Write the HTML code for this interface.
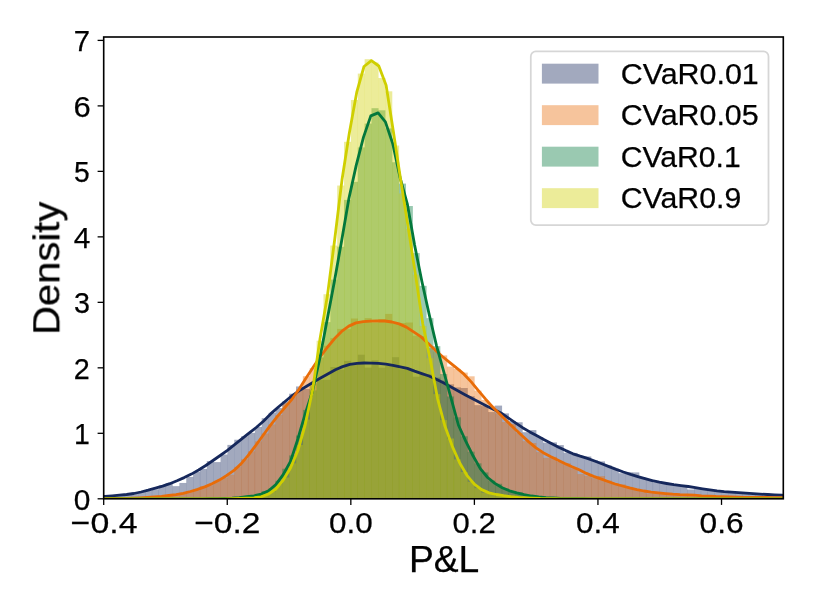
<!DOCTYPE html>
<html><head><meta charset="utf-8"><title>P&amp;L density</title>
<style>
html,body{margin:0;padding:0;background:#fff;}
body{width:814px;height:610px;overflow:hidden;font-family:"Liberation Sans",sans-serif;}
</style></head><body>
<svg width="814" height="610" viewBox="0 0 814 610" style="display:block"><rect x="0" y="0" width="814" height="610" fill="#ffffff"/>
<defs><clipPath id="ax"><rect x="103.7" y="37.0" width="679.5999999999999" height="461.8"/></clipPath></defs>
<g clip-path="url(#ax)">
<g fill="#16285c" fill-opacity="0.4" stroke="none">
<rect x="83.30" y="496.69" width="7.06" height="2.11"/>
<rect x="90.16" y="496.88" width="7.06" height="1.92"/>
<rect x="97.02" y="496.57" width="7.06" height="2.23"/>
<rect x="103.88" y="497.19" width="7.06" height="1.61"/>
<rect x="110.74" y="495.76" width="7.06" height="3.04"/>
<rect x="117.61" y="495.24" width="7.06" height="3.56"/>
<rect x="124.47" y="494.40" width="7.06" height="4.40"/>
<rect x="131.33" y="493.73" width="7.06" height="5.07"/>
<rect x="138.19" y="491.86" width="7.06" height="6.94"/>
<rect x="145.05" y="490.48" width="7.06" height="8.32"/>
<rect x="151.92" y="489.28" width="7.06" height="9.52"/>
<rect x="158.78" y="485.37" width="7.06" height="13.43"/>
<rect x="165.64" y="483.06" width="7.06" height="15.74"/>
<rect x="172.50" y="486.15" width="7.06" height="12.65"/>
<rect x="179.36" y="482.95" width="7.06" height="15.85"/>
<rect x="186.23" y="476.90" width="7.06" height="21.90"/>
<rect x="193.09" y="471.82" width="7.06" height="26.98"/>
<rect x="199.95" y="468.95" width="7.06" height="29.85"/>
<rect x="206.81" y="461.07" width="7.06" height="37.73"/>
<rect x="213.67" y="462.10" width="7.06" height="36.70"/>
<rect x="220.54" y="454.54" width="7.06" height="44.26"/>
<rect x="227.40" y="444.90" width="7.06" height="53.90"/>
<rect x="234.26" y="439.73" width="7.06" height="59.07"/>
<rect x="241.12" y="436.23" width="7.06" height="62.57"/>
<rect x="247.98" y="432.90" width="7.06" height="65.90"/>
<rect x="254.85" y="426.95" width="7.06" height="71.85"/>
<rect x="261.71" y="418.18" width="7.06" height="80.62"/>
<rect x="268.57" y="412.87" width="7.06" height="85.93"/>
<rect x="275.43" y="408.04" width="7.06" height="90.76"/>
<rect x="282.29" y="401.27" width="7.06" height="97.53"/>
<rect x="289.16" y="393.70" width="7.06" height="105.10"/>
<rect x="296.02" y="386.46" width="7.06" height="112.34"/>
<rect x="302.88" y="389.01" width="7.06" height="109.79"/>
<rect x="309.74" y="383.56" width="7.06" height="115.24"/>
<rect x="316.60" y="380.02" width="7.06" height="118.78"/>
<rect x="323.47" y="379.81" width="7.06" height="118.99"/>
<rect x="330.33" y="367.00" width="7.06" height="131.80"/>
<rect x="337.19" y="369.57" width="7.06" height="129.23"/>
<rect x="344.05" y="360.90" width="7.06" height="137.90"/>
<rect x="350.91" y="363.98" width="7.06" height="134.82"/>
<rect x="357.78" y="354.70" width="7.06" height="144.10"/>
<rect x="364.64" y="367.60" width="7.06" height="131.20"/>
<rect x="371.50" y="360.30" width="7.06" height="138.50"/>
<rect x="378.36" y="367.68" width="7.06" height="131.12"/>
<rect x="385.22" y="365.95" width="7.06" height="132.85"/>
<rect x="392.09" y="357.20" width="7.06" height="141.60"/>
<rect x="398.95" y="369.27" width="7.06" height="129.53"/>
<rect x="405.81" y="368.93" width="7.06" height="129.87"/>
<rect x="412.67" y="376.73" width="7.06" height="122.07"/>
<rect x="419.53" y="374.59" width="7.06" height="124.21"/>
<rect x="426.40" y="374.16" width="7.06" height="124.64"/>
<rect x="433.26" y="377.60" width="7.06" height="121.20"/>
<rect x="440.12" y="380.53" width="7.06" height="118.27"/>
<rect x="446.98" y="384.28" width="7.06" height="114.52"/>
<rect x="453.84" y="387.36" width="7.06" height="111.44"/>
<rect x="460.71" y="388.00" width="7.06" height="110.80"/>
<rect x="467.57" y="396.22" width="7.06" height="102.58"/>
<rect x="474.43" y="405.14" width="7.06" height="93.66"/>
<rect x="481.29" y="406.14" width="7.06" height="92.66"/>
<rect x="488.15" y="412.06" width="7.06" height="86.74"/>
<rect x="495.02" y="405.60" width="7.06" height="93.20"/>
<rect x="501.88" y="413.39" width="7.06" height="85.41"/>
<rect x="508.74" y="421.04" width="7.06" height="77.76"/>
<rect x="515.60" y="422.25" width="7.06" height="76.55"/>
<rect x="522.46" y="432.20" width="7.06" height="66.60"/>
<rect x="529.33" y="430.10" width="7.06" height="68.70"/>
<rect x="536.19" y="437.00" width="7.06" height="61.80"/>
<rect x="543.05" y="442.70" width="7.06" height="56.10"/>
<rect x="549.91" y="442.40" width="7.06" height="56.40"/>
<rect x="556.77" y="445.10" width="7.06" height="53.70"/>
<rect x="563.64" y="452.79" width="7.06" height="46.01"/>
<rect x="570.50" y="452.89" width="7.06" height="45.91"/>
<rect x="577.36" y="456.67" width="7.06" height="42.13"/>
<rect x="584.22" y="456.50" width="7.06" height="42.30"/>
<rect x="591.08" y="460.35" width="7.06" height="38.45"/>
<rect x="597.95" y="461.40" width="7.06" height="37.40"/>
<rect x="604.81" y="465.56" width="7.06" height="33.24"/>
<rect x="611.67" y="468.72" width="7.06" height="30.08"/>
<rect x="618.53" y="473.19" width="7.06" height="25.61"/>
<rect x="625.39" y="472.26" width="7.06" height="26.54"/>
<rect x="632.26" y="472.40" width="7.06" height="26.40"/>
<rect x="639.12" y="477.78" width="7.06" height="21.02"/>
<rect x="645.98" y="479.37" width="7.06" height="19.43"/>
<rect x="652.84" y="482.42" width="7.06" height="16.38"/>
<rect x="659.70" y="482.76" width="7.06" height="16.04"/>
<rect x="666.57" y="482.97" width="7.06" height="15.83"/>
<rect x="673.43" y="485.14" width="7.06" height="13.66"/>
<rect x="680.29" y="486.80" width="7.06" height="12.00"/>
<rect x="687.15" y="489.48" width="7.06" height="9.32"/>
<rect x="694.01" y="488.86" width="7.06" height="9.94"/>
<rect x="700.88" y="489.62" width="7.06" height="9.18"/>
<rect x="707.74" y="490.57" width="7.06" height="8.23"/>
<rect x="714.60" y="491.77" width="7.06" height="7.03"/>
<rect x="721.46" y="491.45" width="7.06" height="7.35"/>
<rect x="728.32" y="492.67" width="7.06" height="6.13"/>
<rect x="735.19" y="492.75" width="7.06" height="6.05"/>
<rect x="742.05" y="492.70" width="7.06" height="6.10"/>
<rect x="748.91" y="494.25" width="7.06" height="4.55"/>
<rect x="755.77" y="494.26" width="7.06" height="4.54"/>
<rect x="762.63" y="493.01" width="7.06" height="5.79"/>
<rect x="769.50" y="494.21" width="7.06" height="4.59"/>
<rect x="776.36" y="495.91" width="7.06" height="2.89"/>
<rect x="783.22" y="495.44" width="7.06" height="3.36"/>
<rect x="790.08" y="495.33" width="7.06" height="3.47"/>
</g>
<g fill="#e86c08" fill-opacity="0.4" stroke="none">
<rect x="97.02" y="498.15" width="7.06" height="0.65"/>
<rect x="103.88" y="498.49" width="7.06" height="0.31"/>
<rect x="110.74" y="498.68" width="7.06" height="0.12"/>
<rect x="117.61" y="498.68" width="7.06" height="0.12"/>
<rect x="124.47" y="497.94" width="7.06" height="0.86"/>
<rect x="131.33" y="497.83" width="7.06" height="0.97"/>
<rect x="138.19" y="497.95" width="7.06" height="0.85"/>
<rect x="145.05" y="497.43" width="7.06" height="1.37"/>
<rect x="151.92" y="497.07" width="7.06" height="1.73"/>
<rect x="158.78" y="495.81" width="7.06" height="2.99"/>
<rect x="165.64" y="495.91" width="7.06" height="2.89"/>
<rect x="172.50" y="494.26" width="7.06" height="4.54"/>
<rect x="179.36" y="492.87" width="7.06" height="5.93"/>
<rect x="186.23" y="491.39" width="7.06" height="7.41"/>
<rect x="193.09" y="490.34" width="7.06" height="8.46"/>
<rect x="199.95" y="486.24" width="7.06" height="12.56"/>
<rect x="206.81" y="485.23" width="7.06" height="13.57"/>
<rect x="213.67" y="480.79" width="7.06" height="18.01"/>
<rect x="220.54" y="478.04" width="7.06" height="20.76"/>
<rect x="227.40" y="474.69" width="7.06" height="24.11"/>
<rect x="234.26" y="466.89" width="7.06" height="31.91"/>
<rect x="241.12" y="459.27" width="7.06" height="39.53"/>
<rect x="247.98" y="451.27" width="7.06" height="47.53"/>
<rect x="254.85" y="441.35" width="7.06" height="57.45"/>
<rect x="261.71" y="433.48" width="7.06" height="65.32"/>
<rect x="268.57" y="424.40" width="7.06" height="74.40"/>
<rect x="275.43" y="414.94" width="7.06" height="83.86"/>
<rect x="282.29" y="402.82" width="7.06" height="95.98"/>
<rect x="289.16" y="396.80" width="7.06" height="102.00"/>
<rect x="296.02" y="389.41" width="7.06" height="109.39"/>
<rect x="302.88" y="376.22" width="7.06" height="122.58"/>
<rect x="309.74" y="368.16" width="7.06" height="130.64"/>
<rect x="316.60" y="357.95" width="7.06" height="140.85"/>
<rect x="323.47" y="345.75" width="7.06" height="153.05"/>
<rect x="330.33" y="338.10" width="7.06" height="160.70"/>
<rect x="337.19" y="328.90" width="7.06" height="169.90"/>
<rect x="344.05" y="329.13" width="7.06" height="169.67"/>
<rect x="350.91" y="318.50" width="7.06" height="180.30"/>
<rect x="357.78" y="321.61" width="7.06" height="177.19"/>
<rect x="364.64" y="318.12" width="7.06" height="180.68"/>
<rect x="371.50" y="322.87" width="7.06" height="175.93"/>
<rect x="378.36" y="319.02" width="7.06" height="179.78"/>
<rect x="385.22" y="313.90" width="7.06" height="184.90"/>
<rect x="392.09" y="323.18" width="7.06" height="175.62"/>
<rect x="398.95" y="323.03" width="7.06" height="175.77"/>
<rect x="405.81" y="322.50" width="7.06" height="176.30"/>
<rect x="412.67" y="335.70" width="7.06" height="163.10"/>
<rect x="419.53" y="335.96" width="7.06" height="162.84"/>
<rect x="426.40" y="348.07" width="7.06" height="150.73"/>
<rect x="433.26" y="351.38" width="7.06" height="147.42"/>
<rect x="440.12" y="355.40" width="7.06" height="143.40"/>
<rect x="446.98" y="366.60" width="7.06" height="132.20"/>
<rect x="453.84" y="368.90" width="7.06" height="129.90"/>
<rect x="460.71" y="372.60" width="7.06" height="126.20"/>
<rect x="467.57" y="376.30" width="7.06" height="122.50"/>
<rect x="474.43" y="390.60" width="7.06" height="108.20"/>
<rect x="481.29" y="399.93" width="7.06" height="98.87"/>
<rect x="488.15" y="405.85" width="7.06" height="92.95"/>
<rect x="495.02" y="413.36" width="7.06" height="85.44"/>
<rect x="501.88" y="422.01" width="7.06" height="76.79"/>
<rect x="508.74" y="424.00" width="7.06" height="74.80"/>
<rect x="515.60" y="433.13" width="7.06" height="65.67"/>
<rect x="522.46" y="441.20" width="7.06" height="57.60"/>
<rect x="529.33" y="443.00" width="7.06" height="55.80"/>
<rect x="536.19" y="452.10" width="7.06" height="46.70"/>
<rect x="543.05" y="457.80" width="7.06" height="41.00"/>
<rect x="549.91" y="456.84" width="7.06" height="41.96"/>
<rect x="556.77" y="462.02" width="7.06" height="36.78"/>
<rect x="563.64" y="463.30" width="7.06" height="35.50"/>
<rect x="570.50" y="468.34" width="7.06" height="30.46"/>
<rect x="577.36" y="474.10" width="7.06" height="24.70"/>
<rect x="584.22" y="475.86" width="7.06" height="22.94"/>
<rect x="591.08" y="478.11" width="7.06" height="20.69"/>
<rect x="597.95" y="476.10" width="7.06" height="22.70"/>
<rect x="604.81" y="480.59" width="7.06" height="18.21"/>
<rect x="611.67" y="483.38" width="7.06" height="15.42"/>
<rect x="618.53" y="484.37" width="7.06" height="14.43"/>
<rect x="625.39" y="487.11" width="7.06" height="11.69"/>
<rect x="632.26" y="489.81" width="7.06" height="8.99"/>
<rect x="639.12" y="490.83" width="7.06" height="7.97"/>
<rect x="645.98" y="493.35" width="7.06" height="5.45"/>
<rect x="652.84" y="493.36" width="7.06" height="5.44"/>
<rect x="659.70" y="494.06" width="7.06" height="4.74"/>
<rect x="666.57" y="493.79" width="7.06" height="5.01"/>
<rect x="673.43" y="494.02" width="7.06" height="4.78"/>
<rect x="680.29" y="495.04" width="7.06" height="3.76"/>
<rect x="687.15" y="495.31" width="7.06" height="3.49"/>
<rect x="694.01" y="496.40" width="7.06" height="2.40"/>
<rect x="700.88" y="495.99" width="7.06" height="2.81"/>
<rect x="707.74" y="496.12" width="7.06" height="2.68"/>
<rect x="714.60" y="496.29" width="7.06" height="2.51"/>
<rect x="721.46" y="497.22" width="7.06" height="1.58"/>
<rect x="728.32" y="495.98" width="7.06" height="2.82"/>
<rect x="735.19" y="496.57" width="7.06" height="2.23"/>
<rect x="742.05" y="497.35" width="7.06" height="1.45"/>
<rect x="748.91" y="497.66" width="7.06" height="1.14"/>
<rect x="755.77" y="497.63" width="7.06" height="1.17"/>
<rect x="762.63" y="497.47" width="7.06" height="1.33"/>
<rect x="769.50" y="497.62" width="7.06" height="1.18"/>
<rect x="776.36" y="497.44" width="7.06" height="1.36"/>
<rect x="783.22" y="497.39" width="7.06" height="1.41"/>
<rect x="790.08" y="497.19" width="7.06" height="1.61"/>
</g>
<g fill="#03783c" fill-opacity="0.4" stroke="none">
<rect x="213.67" y="498.16" width="7.06" height="0.64"/>
<rect x="220.54" y="498.45" width="7.06" height="0.35"/>
<rect x="227.40" y="498.00" width="7.06" height="0.80"/>
<rect x="234.26" y="497.97" width="7.06" height="0.83"/>
<rect x="241.12" y="497.16" width="7.06" height="1.64"/>
<rect x="247.98" y="494.99" width="7.06" height="3.81"/>
<rect x="254.85" y="495.23" width="7.06" height="3.57"/>
<rect x="261.71" y="491.11" width="7.06" height="7.69"/>
<rect x="268.57" y="488.45" width="7.06" height="10.35"/>
<rect x="275.43" y="480.78" width="7.06" height="18.02"/>
<rect x="282.29" y="468.72" width="7.06" height="30.08"/>
<rect x="289.16" y="455.40" width="7.06" height="43.40"/>
<rect x="296.02" y="435.54" width="7.06" height="63.26"/>
<rect x="302.88" y="409.90" width="7.06" height="88.90"/>
<rect x="309.74" y="390.38" width="7.06" height="108.42"/>
<rect x="316.60" y="356.67" width="7.06" height="142.13"/>
<rect x="323.47" y="322.11" width="7.06" height="176.69"/>
<rect x="330.33" y="279.61" width="7.06" height="219.19"/>
<rect x="337.19" y="246.69" width="7.06" height="252.11"/>
<rect x="344.05" y="199.88" width="7.06" height="298.92"/>
<rect x="350.91" y="181.83" width="7.06" height="316.97"/>
<rect x="357.78" y="147.40" width="7.06" height="351.40"/>
<rect x="364.64" y="123.60" width="7.06" height="375.20"/>
<rect x="371.50" y="108.20" width="7.06" height="390.60"/>
<rect x="378.36" y="110.30" width="7.06" height="388.50"/>
<rect x="385.22" y="128.40" width="7.06" height="370.40"/>
<rect x="392.09" y="162.24" width="7.06" height="336.56"/>
<rect x="398.95" y="183.60" width="7.06" height="315.20"/>
<rect x="405.81" y="206.02" width="7.06" height="292.78"/>
<rect x="412.67" y="253.11" width="7.06" height="245.69"/>
<rect x="419.53" y="285.83" width="7.06" height="212.97"/>
<rect x="426.40" y="318.16" width="7.06" height="180.64"/>
<rect x="433.26" y="346.16" width="7.06" height="152.64"/>
<rect x="440.12" y="373.99" width="7.06" height="124.81"/>
<rect x="446.98" y="396.47" width="7.06" height="102.33"/>
<rect x="453.84" y="417.33" width="7.06" height="81.47"/>
<rect x="460.71" y="436.28" width="7.06" height="62.52"/>
<rect x="467.57" y="451.70" width="7.06" height="47.10"/>
<rect x="474.43" y="463.33" width="7.06" height="35.47"/>
<rect x="481.29" y="472.43" width="7.06" height="26.37"/>
<rect x="488.15" y="480.55" width="7.06" height="18.25"/>
<rect x="495.02" y="483.77" width="7.06" height="15.03"/>
<rect x="501.88" y="488.48" width="7.06" height="10.32"/>
<rect x="508.74" y="491.43" width="7.06" height="7.37"/>
<rect x="515.60" y="492.22" width="7.06" height="6.58"/>
<rect x="522.46" y="496.50" width="7.06" height="2.30"/>
<rect x="529.33" y="496.52" width="7.06" height="2.28"/>
<rect x="536.19" y="496.97" width="7.06" height="1.83"/>
<rect x="543.05" y="498.08" width="7.06" height="0.72"/>
<rect x="549.91" y="498.12" width="7.06" height="0.68"/>
<rect x="556.77" y="498.62" width="7.06" height="0.18"/>
<rect x="563.64" y="498.70" width="7.06" height="0.10"/>
<rect x="570.50" y="497.65" width="7.06" height="1.15"/>
</g>
<g fill="#cfcf00" fill-opacity="0.4" stroke="none">
<rect x="234.26" y="498.28" width="7.06" height="0.52"/>
<rect x="241.12" y="498.33" width="7.06" height="0.47"/>
<rect x="247.98" y="497.36" width="7.06" height="1.44"/>
<rect x="254.85" y="497.41" width="7.06" height="1.39"/>
<rect x="261.71" y="495.04" width="7.06" height="3.76"/>
<rect x="268.57" y="491.68" width="7.06" height="7.12"/>
<rect x="275.43" y="484.24" width="7.06" height="14.56"/>
<rect x="282.29" y="477.49" width="7.06" height="21.31"/>
<rect x="289.16" y="463.29" width="7.06" height="35.51"/>
<rect x="296.02" y="444.92" width="7.06" height="53.88"/>
<rect x="302.88" y="419.56" width="7.06" height="79.24"/>
<rect x="309.74" y="383.51" width="7.06" height="115.29"/>
<rect x="316.60" y="340.72" width="7.06" height="158.08"/>
<rect x="323.47" y="294.24" width="7.06" height="204.56"/>
<rect x="330.33" y="245.55" width="7.06" height="253.25"/>
<rect x="337.19" y="185.55" width="7.06" height="313.25"/>
<rect x="344.05" y="141.80" width="7.06" height="357.00"/>
<rect x="350.91" y="99.97" width="7.06" height="398.83"/>
<rect x="357.78" y="73.60" width="7.06" height="425.20"/>
<rect x="364.64" y="59.20" width="7.06" height="439.60"/>
<rect x="371.50" y="62.50" width="7.06" height="436.30"/>
<rect x="378.36" y="78.00" width="7.06" height="420.80"/>
<rect x="385.22" y="91.30" width="7.06" height="407.50"/>
<rect x="392.09" y="145.54" width="7.06" height="353.26"/>
<rect x="398.95" y="193.47" width="7.06" height="305.33"/>
<rect x="405.81" y="228.90" width="7.06" height="269.90"/>
<rect x="412.67" y="274.55" width="7.06" height="224.25"/>
<rect x="419.53" y="325.97" width="7.06" height="172.83"/>
<rect x="426.40" y="358.21" width="7.06" height="140.59"/>
<rect x="433.26" y="394.12" width="7.06" height="104.68"/>
<rect x="440.12" y="420.15" width="7.06" height="78.65"/>
<rect x="446.98" y="438.48" width="7.06" height="60.32"/>
<rect x="453.84" y="459.41" width="7.06" height="39.39"/>
<rect x="460.71" y="472.05" width="7.06" height="26.75"/>
<rect x="467.57" y="481.79" width="7.06" height="17.01"/>
<rect x="474.43" y="488.12" width="7.06" height="10.68"/>
<rect x="481.29" y="492.66" width="7.06" height="6.14"/>
<rect x="488.15" y="493.39" width="7.06" height="5.41"/>
<rect x="495.02" y="495.63" width="7.06" height="3.17"/>
<rect x="501.88" y="495.12" width="7.06" height="3.68"/>
<rect x="508.74" y="496.34" width="7.06" height="2.46"/>
<rect x="515.60" y="497.94" width="7.06" height="0.86"/>
<rect x="522.46" y="498.33" width="7.06" height="0.47"/>
<rect x="529.33" y="498.47" width="7.06" height="0.33"/>
<rect x="536.19" y="497.92" width="7.06" height="0.88"/>
<rect x="543.05" y="498.70" width="7.06" height="0.10"/>
</g>
<path d="M83.4,497.8 L90.6,497.3 L97.8,496.8 L105.0,496.3 L112.2,495.8 L119.4,495.2 L126.6,494.5 L133.8,493.5 L141.0,492.0 L148.2,490.2 L155.4,488.2 L162.6,486.1 L169.8,483.7 L177.0,480.8 L184.2,477.6 L191.4,474.1 L198.6,470.0 L205.8,465.5 L213.0,460.5 L220.2,455.5 L227.4,450.4 L234.6,444.7 L241.8,438.9 L249.0,433.2 L256.2,427.5 L263.4,421.2 L270.6,413.9 L277.8,407.5 L285.0,401.5 L292.2,395.6 L299.4,390.6 L306.6,386.3 L313.8,381.9 L321.0,377.8 L328.2,373.8 L335.4,369.7 L342.6,366.6 L349.8,364.4 L357.0,363.4 L364.2,363.0 L371.4,363.1 L378.6,363.4 L385.8,364.2 L393.0,365.3 L400.2,366.8 L407.4,368.4 L414.6,371.1 L421.8,373.6 L429.0,376.0 L436.2,379.2 L443.4,382.8 L450.6,386.7 L457.8,390.7 L465.0,394.7 L472.2,398.5 L479.4,402.2 L486.6,405.9 L493.8,409.4 L501.0,413.0 L508.2,417.8 L515.4,422.8 L522.6,427.7 L529.8,431.9 L537.0,435.8 L544.2,439.7 L551.4,443.5 L558.6,447.2 L565.8,450.6 L573.0,453.8 L580.2,456.2 L587.4,458.4 L594.6,461.0 L601.8,463.8 L609.0,466.6 L616.2,469.4 L623.4,472.0 L630.6,474.4 L637.8,476.6 L645.0,478.7 L652.2,480.7 L659.4,482.2 L666.6,483.5 L673.8,484.7 L681.0,485.6 L688.2,486.5 L695.4,487.7 L702.6,488.8 L709.8,489.9 L717.0,490.9 L724.2,491.7 L731.4,492.2 L738.6,492.7 L745.8,493.2 L753.0,493.7 L760.2,494.1 L767.4,494.5 L774.6,494.8 L781.8,495.2 L789.0,495.5 L796.2,495.8 L803.4,498.8 L810.6,498.8" fill="none" stroke="#16285c" stroke-width="2.8" stroke-linejoin="round" stroke-linecap="butt"/>
<path d="M89.6,498.7 L96.8,498.6 L104.0,498.6 L111.2,498.5 L118.4,498.4 L125.6,498.3 L132.8,498.1 L140.0,497.8 L147.2,497.4 L154.4,496.9 L161.6,496.3 L168.8,495.5 L176.0,494.6 L183.2,493.4 L190.4,491.5 L197.6,489.4 L204.8,486.9 L212.0,483.8 L219.2,480.1 L226.4,475.7 L233.6,470.7 L240.8,464.1 L248.0,455.6 L255.2,446.2 L262.4,436.3 L269.6,426.4 L276.8,417.2 L284.0,408.7 L291.2,400.2 L298.4,390.2 L305.6,378.7 L312.8,367.8 L320.0,357.1 L327.2,347.5 L334.4,338.8 L341.6,331.4 L348.8,326.1 L356.0,322.9 L363.2,321.7 L370.4,321.2 L377.6,321.0 L384.8,321.0 L392.0,322.0 L399.2,323.9 L406.4,327.1 L413.6,331.8 L420.8,336.6 L428.0,343.2 L435.2,350.1 L442.4,356.5 L449.6,362.4 L456.8,368.2 L464.0,374.2 L471.2,381.9 L478.4,390.7 L485.6,399.2 L492.8,407.2 L500.0,414.3 L507.2,421.4 L514.4,428.4 L521.6,435.3 L528.8,441.9 L536.0,447.9 L543.2,452.7 L550.4,456.6 L557.6,459.9 L564.8,463.5 L572.0,466.8 L579.2,469.8 L586.4,473.4 L593.6,476.4 L600.8,478.9 L608.0,481.5 L615.2,484.0 L622.4,486.0 L629.6,487.9 L636.8,489.6 L644.0,491.0 L651.2,492.1 L658.4,492.9 L665.6,493.6 L672.8,494.2 L680.0,494.6 L687.2,494.8 L694.4,495.2 L701.6,495.8 L708.8,496.1 L716.0,496.5 L723.2,496.7 L730.4,497.0 L737.6,497.2 L744.8,497.3 L752.0,497.4 L759.2,497.5 L766.4,497.5 L773.6,497.6 L780.8,497.7 L788.0,497.8 L795.2,497.8 L802.4,498.8 L809.6,498.8 L816.8,498.8" fill="none" stroke="#e86c08" stroke-width="2.8" stroke-linejoin="round" stroke-linecap="butt"/>
<path d="M86.1,498.8 L93.4,498.8 L100.7,498.8 L108.0,498.8 L115.3,498.8 L122.6,498.8 L129.9,498.8 L137.2,498.8 L144.5,498.8 L151.8,498.8 L159.1,498.8 L166.4,498.8 L173.7,498.8 L181.0,498.8 L188.3,498.8 L195.6,498.8 L202.9,498.8 L210.2,498.7 L217.5,498.6 L224.8,498.4 L232.1,498.1 L239.4,497.6 L246.7,496.6 L254.0,495.8 L261.3,494.1 L268.6,490.8 L275.9,484.6 L283.2,474.6 L290.5,461.4 L297.8,439.1 L305.1,414.1 L312.4,391.8 L319.7,358.9 L327.0,320.4 L334.3,281.9 L341.6,240.9 L348.9,198.5 L356.2,165.4 L363.5,137.1 L370.8,115.9 L378.1,112.9 L385.4,121.9 L392.7,143.5 L400.0,177.3 L407.3,203.8 L414.6,245.1 L421.9,281.5 L429.2,314.5 L436.5,345.6 L443.8,371.9 L451.1,398.3 L458.4,425.0 L465.7,441.1 L473.0,455.8 L480.3,468.6 L487.6,477.5 L494.9,483.4 L502.2,487.8 L509.5,490.8 L516.8,492.8 L524.1,494.6 L531.4,496.0 L538.7,497.0 L546.0,497.6 L553.3,498.0 L560.6,498.4 L567.9,498.6 L575.2,498.7 L582.5,498.7 L589.8,498.8 L597.1,498.8 L604.4,498.8 L611.7,498.8 L619.0,498.8 L626.3,498.8 L633.6,498.8 L640.9,498.8 L648.2,498.8 L655.5,498.8 L662.8,498.8 L670.1,498.8 L677.4,498.8 L684.7,498.8 L692.0,498.8 L699.3,498.8 L706.6,498.8 L713.9,498.8 L721.2,498.8 L728.5,498.8 L735.8,498.8 L743.1,498.8 L750.4,498.8 L757.7,498.8 L765.0,498.8 L772.3,498.8 L779.6,498.8 L786.9,498.8 L794.2,498.8 L801.5,498.8 L808.8,498.8" fill="none" stroke="#03783c" stroke-width="2.8" stroke-linejoin="round" stroke-linecap="butt"/>
<path d="M84.8,498.8 L92.1,498.8 L99.4,498.8 L106.8,498.8 L114.1,498.8 L121.5,498.8 L128.8,498.8 L136.2,498.8 L143.5,498.8 L150.9,498.8 L158.2,498.8 L165.6,498.8 L172.9,498.8 L180.3,498.8 L187.6,498.8 L195.0,498.8 L202.3,498.8 L209.7,498.8 L217.0,498.8 L224.4,498.8 L231.7,498.7 L239.1,498.5 L246.4,498.2 L253.8,497.8 L261.1,496.8 L268.5,494.1 L275.8,489.0 L283.2,480.1 L290.5,468.0 L297.9,450.5 L305.2,424.8 L312.6,390.0 L319.9,339.6 L327.3,296.6 L334.6,240.2 L342.0,179.8 L349.3,133.3 L356.7,92.4 L364.0,66.5 L371.4,60.7 L378.8,66.0 L386.1,85.3 L393.4,131.7 L400.8,180.8 L408.1,226.9 L415.5,274.9 L422.8,324.0 L430.2,359.5 L437.5,398.3 L444.9,426.1 L452.2,446.1 L459.6,462.7 L466.9,475.3 L474.3,484.1 L481.6,489.6 L489.0,492.9 L496.3,494.5 L503.7,495.7 L511.0,496.7 L518.4,497.4 L525.8,497.8 L533.1,498.2 L540.4,498.5 L547.8,498.6 L555.1,498.7 L562.5,498.8 L569.8,498.8 L577.2,498.8 L584.5,498.8 L591.9,498.8 L599.2,498.8 L606.6,498.8 L613.9,498.8 L621.3,498.8 L628.6,498.8 L636.0,498.8 L643.3,498.8 L650.7,498.8 L658.0,498.8 L665.4,498.8 L672.8,498.8 L680.1,498.8 L687.5,498.8 L694.8,498.8 L702.1,498.8 L709.5,498.8 L716.8,498.8 L724.2,498.8 L731.5,498.8 L738.9,498.8 L746.2,498.8 L753.6,498.8 L760.9,498.8 L768.3,498.8 L775.6,498.8 L783.0,498.8 L790.3,498.8 L797.7,498.8 L805.0,498.8" fill="none" stroke="#cfcf00" stroke-width="2.8" stroke-linejoin="round" stroke-linecap="butt"/>
</g>
<rect x="103.7" y="37.0" width="679.5999999999999" height="461.8" fill="none" stroke="#000" stroke-width="1.62"/>
<line x1="103.70" y1="498.8" x2="103.70" y2="504.90000000000003" stroke="#000" stroke-width="1.3"/>
<line x1="227.26" y1="498.8" x2="227.26" y2="504.90000000000003" stroke="#000" stroke-width="1.3"/>
<line x1="350.83" y1="498.8" x2="350.83" y2="504.90000000000003" stroke="#000" stroke-width="1.3"/>
<line x1="474.39" y1="498.8" x2="474.39" y2="504.90000000000003" stroke="#000" stroke-width="1.3"/>
<line x1="597.95" y1="498.8" x2="597.95" y2="504.90000000000003" stroke="#000" stroke-width="1.3"/>
<line x1="721.52" y1="498.8" x2="721.52" y2="504.90000000000003" stroke="#000" stroke-width="1.3"/>
<line x1="97.60000000000001" y1="498.80" x2="103.7" y2="498.80" stroke="#000" stroke-width="1.3"/>
<line x1="97.60000000000001" y1="433.31" x2="103.7" y2="433.31" stroke="#000" stroke-width="1.3"/>
<line x1="97.60000000000001" y1="367.83" x2="103.7" y2="367.83" stroke="#000" stroke-width="1.3"/>
<line x1="97.60000000000001" y1="302.34" x2="103.7" y2="302.34" stroke="#000" stroke-width="1.3"/>
<line x1="97.60000000000001" y1="236.86" x2="103.7" y2="236.86" stroke="#000" stroke-width="1.3"/>
<line x1="97.60000000000001" y1="171.37" x2="103.7" y2="171.37" stroke="#000" stroke-width="1.3"/>
<line x1="97.60000000000001" y1="105.89" x2="103.7" y2="105.89" stroke="#000" stroke-width="1.3"/>
<line x1="97.60000000000001" y1="40.40" x2="103.7" y2="40.40" stroke="#000" stroke-width="1.3"/>
<rect x="530.8" y="51.4" width="237.7" height="173.6" rx="5" ry="5" fill="#ffffff" fill-opacity="0.8" stroke="#cccccc" stroke-opacity="0.8" stroke-width="1.75"/>
<rect x="541.9" y="63.70" width="56.6" height="19.9" fill="#16285c" fill-opacity="0.4"/>
<rect x="541.9" y="105.20" width="56.6" height="19.9" fill="#e86c08" fill-opacity="0.4"/>
<rect x="541.9" y="146.70" width="56.6" height="19.9" fill="#03783c" fill-opacity="0.4"/>
<rect x="541.9" y="188.20" width="56.6" height="19.9" fill="#cfcf00" fill-opacity="0.4"/>
<g opacity="0.999">
<text x="70.62" y="532.80" font-size="30.2" textLength="66.89" lengthAdjust="spacingAndGlyphs" font-family="Liberation Sans, sans-serif" fill="#000" stroke="#000" stroke-width="0.25">−0.4</text>
<text x="194.20" y="532.80" font-size="30.2" textLength="66.32" lengthAdjust="spacingAndGlyphs" font-family="Liberation Sans, sans-serif" fill="#000" stroke="#000" stroke-width="0.25">−0.2</text>
<text x="328.93" y="532.80" font-size="30.2" textLength="43.78" lengthAdjust="spacingAndGlyphs" font-family="Liberation Sans, sans-serif" fill="#000" stroke="#000" stroke-width="0.25">0.0</text>
<text x="452.51" y="532.80" font-size="30.2" textLength="43.14" lengthAdjust="spacingAndGlyphs" font-family="Liberation Sans, sans-serif" fill="#000" stroke="#000" stroke-width="0.25">0.2</text>
<text x="576.06" y="532.80" font-size="30.2" textLength="43.76" lengthAdjust="spacingAndGlyphs" font-family="Liberation Sans, sans-serif" fill="#000" stroke="#000" stroke-width="0.25">0.4</text>
<text x="699.61" y="532.80" font-size="30.2" textLength="44.05" lengthAdjust="spacingAndGlyphs" font-family="Liberation Sans, sans-serif" fill="#000" stroke="#000" stroke-width="0.25">0.6</text>
<text x="73.70" y="509.70" font-size="30.2" textLength="16.61" lengthAdjust="spacingAndGlyphs" font-family="Liberation Sans, sans-serif" fill="#000" stroke="#000" stroke-width="0.25">0</text>
<text x="73.94" y="444.21" font-size="30.2" textLength="15.87" lengthAdjust="spacingAndGlyphs" font-family="Liberation Sans, sans-serif" fill="#000" stroke="#000" stroke-width="0.25">1</text>
<text x="73.63" y="378.73" font-size="30.2" textLength="16.01" lengthAdjust="spacingAndGlyphs" font-family="Liberation Sans, sans-serif" fill="#000" stroke="#000" stroke-width="0.25">2</text>
<text x="74.07" y="313.24" font-size="30.2" textLength="15.96" lengthAdjust="spacingAndGlyphs" font-family="Liberation Sans, sans-serif" fill="#000" stroke="#000" stroke-width="0.25">3</text>
<text x="73.70" y="247.76" font-size="30.2" textLength="16.62" lengthAdjust="spacingAndGlyphs" font-family="Liberation Sans, sans-serif" fill="#000" stroke="#000" stroke-width="0.25">4</text>
<text x="74.06" y="182.27" font-size="30.2" textLength="15.68" lengthAdjust="spacingAndGlyphs" font-family="Liberation Sans, sans-serif" fill="#000" stroke="#000" stroke-width="0.25">5</text>
<text x="73.41" y="116.79" font-size="30.2" textLength="17.20" lengthAdjust="spacingAndGlyphs" font-family="Liberation Sans, sans-serif" fill="#000" stroke="#000" stroke-width="0.25">6</text>
<text x="73.83" y="51.30" font-size="30.2" textLength="16.25" lengthAdjust="spacingAndGlyphs" font-family="Liberation Sans, sans-serif" fill="#000" stroke="#000" stroke-width="0.25">7</text>
<text x="408.95" y="572.30" font-size="37.0" textLength="70.39" lengthAdjust="spacingAndGlyphs" font-family="Liberation Sans, sans-serif" fill="#000" stroke="#000" stroke-width="0.25">P&amp;L</text>
<text transform="translate(59.3,331.6) rotate(-90)" x="-3.28" y="0" font-size="37.0" textLength="133.15" lengthAdjust="spacingAndGlyphs" font-family="Liberation Sans, sans-serif" fill="#000" stroke="#000" stroke-width="0.25">Density</text>
<text x="620.67" y="83.90" font-size="30.2" textLength="138.11" lengthAdjust="spacingAndGlyphs" font-family="Liberation Sans, sans-serif" fill="#000" stroke="#000" stroke-width="0.25">CVaR0.01</text>
<text x="620.67" y="125.40" font-size="30.2" textLength="138.04" lengthAdjust="spacingAndGlyphs" font-family="Liberation Sans, sans-serif" fill="#000" stroke="#000" stroke-width="0.25">CVaR0.05</text>
<text x="620.69" y="166.90" font-size="30.2" textLength="120.04" lengthAdjust="spacingAndGlyphs" font-family="Liberation Sans, sans-serif" fill="#000" stroke="#000" stroke-width="0.25">CVaR0.1</text>
<text x="620.68" y="208.40" font-size="30.2" textLength="120.64" lengthAdjust="spacingAndGlyphs" font-family="Liberation Sans, sans-serif" fill="#000" stroke="#000" stroke-width="0.25">CVaR0.9</text>
</g></svg>
</body></html>
